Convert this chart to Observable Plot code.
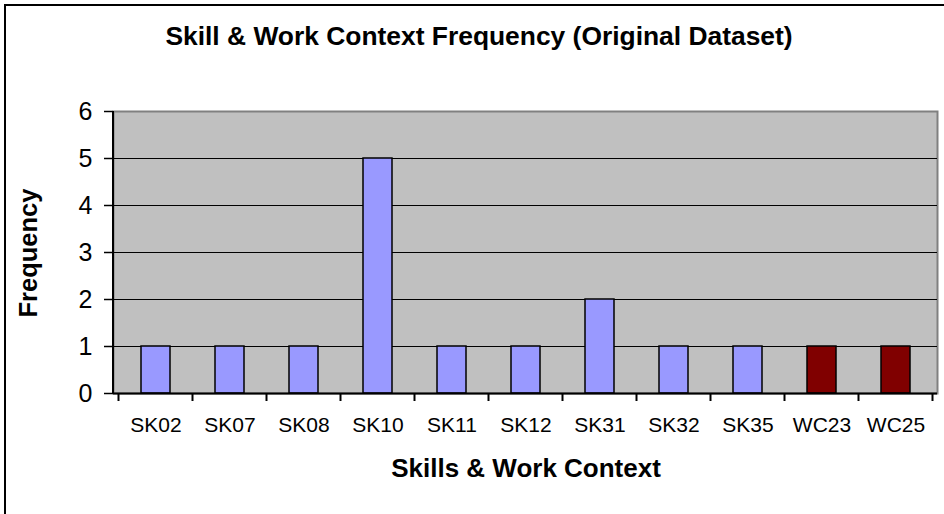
<!DOCTYPE html>
<html>
<head>
<meta charset="utf-8">
<script src="https://cdn.jsdelivr.net/npm/d3@7"></script>
<script src="https://cdn.jsdelivr.net/npm/@observablehq/plot@0.6"></script>
<style>
  body { margin: 0; background: #fff; overflow: hidden; }
  svg { display: block; font-family: "Liberation Sans", Arial, sans-serif; }
</style>
</head>
<body>
<div id="chart"></div>
<script>
const categories = ["SK02","SK07","SK08","SK10","SK11","SK12","SK31","SK32","SK35","WC23","WC25"];
const frequency = [1, 1, 1, 5, 1, 1, 2, 1, 1, 1, 1];
const groups = ["SK","SK","SK","SK","SK","SK","SK","SK","SK","WC","WC"];
const yTicks = [0, 1, 2, 3, 4, 5, 6];
const title = "Skill & Work Context Frequency (Original Dataset)";
const xLabel = "Skills & Work Context";
const yLabel = "Frequency";

const data = categories.map((c, i) => ({category: c, value: frequency[i], group: groups[i]}));

const W = 944, H = 514;
const mL = 113, mR = 7, mT = 111, mB = 121;

const plot = Plot.plot({
  width: W,
  height: H,
  marginLeft: mL,
  marginRight: mR,
  marginTop: mT,
  marginBottom: mB,
  style: {fontFamily: "Liberation Sans, Arial, sans-serif", background: "transparent", color: "#000"},
  x: {domain: categories, paddingInner: 0.61, paddingOuter: 0.305, label: null},
  y: {domain: [0, 6], label: null},
  color: {domain: ["SK", "WC"], range: ["#9999ff", "#800000"]},
  marks: [
    Plot.frame({fill: "#c0c0c0", stroke: "#808080", strokeWidth: 2}),
    Plot.ruleY(yTicks.filter(d => d > 0 && d < 6), {stroke: "#000", strokeWidth: 1}),
    Plot.barY(data, {x: "category", y: "value", fill: "group", stroke: "#000", strokeWidth: 1.5}),
    Plot.ruleY([0], {stroke: "#000", strokeWidth: 2}),
    Plot.axisY({ticks: yTicks, tickSize: 9, tickPadding: 12, fontSize: 25, tickFormat: d => String(d), stroke: "#000", strokeWidth: 1.5}),
    Plot.axisX({tickSize: 0, tickPadding: 24, fontSize: 21})
  ]
});

const svg = d3.select(plot);
const xs = plot.scale("x");
const step = xs.step;
const x0 = xs.apply(categories[0]) - (step - xs.bandwidth) / 2;
const baseY = plot.scale("y").apply(0);

// left axis line
svg.append("line")
  .attr("x1", mL).attr("x2", mL)
  .attr("y1", mT).attr("y2", baseY + 1)
  .attr("stroke", "#000").attr("stroke-width", 2);

// category boundary ticks
const boundaries = d3.range(categories.length + 1).map(i => x0 + i * step);
svg.append("g").selectAll("line").data(boundaries).join("line")
  .attr("x1", d => d).attr("x2", d => d)
  .attr("y1", baseY).attr("y2", baseY + 8)
  .attr("stroke", "#000").attr("stroke-width", 2);

// outer chart border
svg.append("rect")
  .attr("x", 5).attr("y", 5)
  .attr("width", W + 10).attr("height", H + 10)
  .attr("fill", "none").attr("stroke", "#000").attr("stroke-width", 2);

// title
svg.append("text")
  .attr("x", 479).attr("y", 45)
  .attr("text-anchor", "middle")
  .attr("font-weight", "bold").attr("font-size", 26.4)
  .attr("fill", "#000")
  .text(title);

// x label
svg.append("text")
  .attr("x", 526).attr("y", 477)
  .attr("text-anchor", "middle")
  .attr("font-weight", "bold").attr("font-size", 26)
  .attr("fill", "#000")
  .text(xLabel);

// y label
svg.append("text")
  .attr("transform", `translate(37,253) rotate(-90)`)
  .attr("text-anchor", "middle")
  .attr("font-weight", "bold").attr("font-size", 25.5)
  .attr("fill", "#000")
  .text(yLabel);

document.getElementById("chart").appendChild(plot);
</script>
</body>
</html>
